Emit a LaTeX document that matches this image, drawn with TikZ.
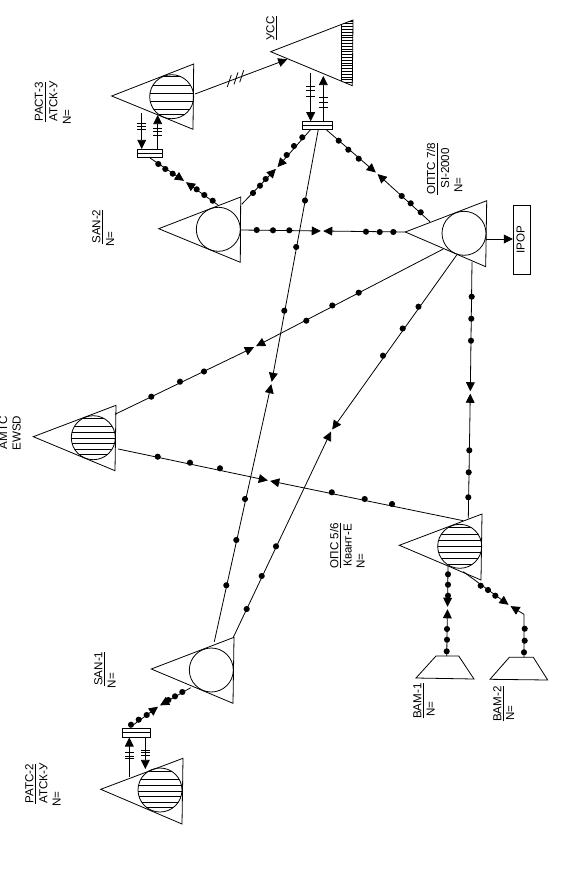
\documentclass[tikz,border=0pt]{standalone}
\usepackage{fontspec}
\setmainfont{Liberation Sans}
\usetikzlibrary{arrows.meta}
\tikzset{
  ln/.style={line width=0.6pt,line join=miter},
  arr/.style={ln,-{Triangle[length=6.8pt,width=6.6pt]},shorten >=0.9pt},
  arrtip/.style={ln,-{Triangle[length=6.8pt,width=6.6pt]}},
  disc/.style={circle,draw,line width=0.6pt,minimum size=33pt,inner sep=0pt},
  lbl/.style={rotate=90,anchor=west,inner sep=0pt,font=\fontsize{8.7}{10}\selectfont,text height=6.2pt,text depth=1.8pt},
  box/.style={draw,line width=0.6pt,inner sep=0pt,fill=white}
}
\newcommand{\tri}[4]{%
  \coordinate (#1-a) at #2; \coordinate (#1-t) at #3; \coordinate (#1-b) at #4;
  \draw[ln] (#1-a) -- (#1-t) -- (#1-b) -- cycle;}
\newcommand{\stripes}[3]{% name, unused, list of offsets
  \begin{scope}
    \clip (#1.center) circle [radius=16.5pt];
    \foreach \o in {#3} \draw[ln] ([yshift=-\o*0.75pt,xshift=-17pt]#1.center) -- ++(34pt,0pt);
  \end{scope}}
\newcommand{\dotsat}[1]{\foreach \p in {#1} \fill \p circle [radius=2.3pt];}
\newcommand{\htk}[3]{\foreach \q in {#3} \draw[ln] (#1-4.3,\q) -- (#1+4.3,\q);}
\newcommand{\twoway}[3]{\draw[arr] (#1) -- (#3); \draw[arr] (#2) -- (#3);}
\newcommand{\lab}[4]{\node[lbl] (#1) at (#2,#3) {#4};}
\begin{document}
\begin{tikzpicture}[x=0.75pt,y=-0.75pt]
\useasboundingbox (0,0) rectangle (575,881);

% stations
\tri{RAC}{(111.7,96)}{(193.7,64)}{(193,129.3)}
\node[disc] (cRAC) at (171.7,96.7) {};
\stripes{cRAC}{}{-20,-11,-3,5,13,18}
\tri{SB}{(158.7,228.7)}{(240.7,197)}{(240.3,262.3)}
\node[disc] (cSB) at (218.3,229.3) {};
\tri{OPT}{(405.3,232)}{(486.7,200.7)}{(485.7,266.7)}
\node[disc] (cOPT) at (464,233.3) {};
\tri{OPS}{(399.3,545.3)}{(482,514)}{(481,580)}
\node[disc] (cOPS) at (459.7,546.3) {};
\stripes{cOPS}{}{-19,-12,-6,0,6,12,18}
\tri{SA}{(151.3,669)}{(234,637.3)}{(233,703.3)}
\node[disc] (cSA) at (211.3,670) {};
\tri{RAT}{(100.7,789.3)}{(183,758.3)}{(182,824)}
\node[disc] (cRAT) at (160,790) {};
\stripes{cRAT}{}{-19,-11,-5,1,6,12,17}
\tri{AMT}{(33.3,436.7)}{(116,405.3)}{(115,470.7)}
\node[disc] (cAMT) at (93.3,437.7) {};
\stripes{cAMT}{}{-19,-11,-5,1,6,12,17}
% YCC
\tri{YCC}{(270.7,51.7)}{(353,20)}{(352.3,85.7)}
\begin{scope}
  \clip (341.3,15) rectangle (353.5,90);
  \clip (YCC-a) -- (YCC-t) -- (YCC-b) -- cycle;
  \foreach \y in {21,23.8,...,88} \draw[line width=0.45pt] (341,\y) -- (354,\y);
\end{scope}
\draw[ln] (341.3,24.5) -- (341.3,81);

% small boxes
\node[box,minimum width=18.75pt,minimum height=5.8pt] (r1) at (150.2,153.2) {};
\draw[ln] (r1.west) -- (r1.east);
\node[box,minimum width=22.7pt,minimum height=5.8pt] (r3) at (317.2,125.5) {};
\draw[ln] (r3.west) -- (r3.east);
\node[box,minimum width=21.3pt,minimum height=6.5pt] (r2) at (136.5,732.7) {};
\draw[ln] (r2.west) -- (r2.east);
\node[box,minimum width=12.7pt,minimum height=51.7pt] (ipop) at (521.7,239.5) {};
\node[lbl,anchor=center] (ipopt) at (ipop.center) {IPOP};

% VAM
\coordinate (v1a) at (416,678); \coordinate (v1b) at (436,656); \coordinate (v1c) at (458.7,656); \coordinate (v1d) at (474,679);
\draw[ln] (v1a) -- (v1b) -- (v1c) -- (v1d) -- cycle;
\coordinate (v2a) at (490,679.3); \coordinate (v2b) at (509.3,657.3); \coordinate (v2c) at (533.3,657.3); \coordinate (v2d) at (547.7,680);
\draw[ln] (v2a) -- (v2b) -- (v2c) -- (v2d) -- cycle;

% connector end points
\coordinate (e1a) at (195,94);      \coordinate (e1b) at (287.3,59.3);
\coordinate (eAa) at (150,158);     \coordinate (eAb) at (218,205);     \coordinate (mA) at (185,181.5);
\coordinate (eBa) at (241.7,204.3); \coordinate (eBb) at (310.7,129.5); \coordinate (mB) at (276.7,168);
\coordinate (eCa) at (326,129.5);   \coordinate (eCb) at (430,221.7);   \coordinate (mC) at (376.7,173.3);
\coordinate (eDa) at (318.3,129.5); \coordinate (eDb) at (214.3,641.7); \coordinate (mD) at (271.5,383);
\coordinate (eEa) at (456.7,255);   \coordinate (eEb) at (233.3,637.3); \coordinate (mE) at (331.5,430.5);
\coordinate (eFa) at (443.3,249);   \coordinate (eFb) at (115,414.3);   \coordinate (mF) at (255,346.7);
\coordinate (eGa) at (463.3,520.7); \coordinate (eGb) at (118.3,449);   \coordinate (mG) at (269,480.7);
\coordinate (eHa) at (240.7,230);   \coordinate (eHb) at (405.3,232);   \coordinate (mH) at (322,231);
\coordinate (eIa) at (485.7,239);
\coordinate (eJa) at (472,262);     \coordinate (eJb) at (468.3,518.3); \coordinate (mJ) at (470.3,392.5);
\coordinate (eKa) at (448,566);     \coordinate (eKb) at (446.7,656);   \coordinate (mK) at (447.5,608);
\coordinate (eLa) at (463.3,571.7); \coordinate (eLb) at (524,657.3);   \coordinate (bL) at (524,614.3); \coordinate (mL) at (509.5,605.5);
\coordinate (eMa) at (190.7,687.7); \coordinate (eMb) at (130,727.3);   \coordinate (mM) at (159,706);

% connectors
\draw[arrtip] (e1a) -- (e1b);
\twoway{eAa}{eAb}{mA}
\dotsat{(158.3,164),(165.3,169),(172.7,173.7),(196.7,189.3),(204.3,195),(212.7,200.7)}
\twoway{eBa}{eBb}{mB}
\dotsat{(253,193),(260,185.7),(265.7,179),(286.7,155),(294,146),(302.3,137.3)}
\twoway{eCa}{eCb}{mC}
\dotsat{(338.7,140.7),(348.3,149.7),(358.7,158.7),(401.7,196),(410.7,203.3),(420.7,212.3)}
\twoway{eDa}{eDb}{mD}
\dotsat{(305,200.5),(296.2,247),(284.3,310.7),(245,499),(236.3,540),(226.3,585.3)}
\twoway{eEa}{eEb}{mE}
\dotsat{(418.5,306.7),(402.7,328.5),(383,355.7),(276,546.3),(261.7,576),(246.7,609)}
\twoway{eFa}{eFb}{mF}
\dotsat{(358.7,292.7),(332.3,305.5),(306.3,320.7),(204,371.5),(180,381.7),(151.3,396.7)}
\twoway{eGa}{eGb}{mG}
\dotsat{(392,504),(364.7,499),(331.8,492.3),(220,468.3),(190,462.7),(157.7,456.7)}
\twoway{eHa}{eHb}{mH}
\dotsat{(256.7,230),(273,230.3),(289.3,230.3),(366,231.7),(379.7,232),(393.3,232)}
\draw[arrtip] (eIa) -- (ipop.west |- eIa);
\twoway{eJa}{eJb}{mJ}
\dotsat{(471.7,296.7),(471.3,318.7),(471,340.7),(469.3,450.3),(468.7,472.3),(468.3,497.3)}
\twoway{eKa}{eKb}{mK}
\dotsat{(448,574.3),(448,584.7),(448,595.7),(447,629),(447,639.7),(446.7,651.3)}
\draw[arr] (eLa) -- (mL);
\draw[arr] (eLb) -- (bL) -- (mL);
\dotsat{(480.7,585.7),(488,590),(495.3,595.7),(524.7,628.7),(524.7,640.7),(524,652.3)}
\twoway{eMa}{eMb}{mM}
\dotsat{(182.3,692),(175,696.3),(168.3,700),(146.7,715),(138.7,719.7),(131,724.7)}

% trunk pairs with tick marks
\coordinate (tA1) at (141.7,112.7); \draw[arrtip] (tA1) -- (r1.north -| tA1);
\htk{141.7}{}{123.3,126,129}
\coordinate (tA2) at (157.7,115); \draw[arrtip] (r1.north -| tA2) -- (tA2);
\htk{157.7}{}{128.3,131.7,135.7}
\coordinate (tB1) at (310.7,72.7); \draw[arrtip] (tB1) -- (r3.north -| tB1);
\htk{310.7}{}{86,90.7,96}
\coordinate (tB2) at (323.3,76); \draw[arrtip] (r3.north -| tB2) -- (tB2);
\htk{323.3}{}{97.3,102,107.3}
\coordinate (tC1) at (129.3,776.7); \draw[arrtip] (tC1) -- (r2.south -| tC1);
\htk{129.3}{}{752.7,756,758.6}
\coordinate (tC2) at (145.3,769); \draw[arrtip] (r2.south -| tC2) -- (tC2);
\htk{145.3}{}{750,752.7,755.7}
% slanted ticks on the line to YCC
\foreach \x/\y in {229.3/81,236/78.4,241.7/76.3} \draw[ln] (\x-2,\y+6) -- (\x+2,\y-6);

% labels
\lab{l1}{40}{122}{\underline{РАСТ-3}}
\lab{l2}{54.5}{122}{АТСК-У}
\lab{l3}{68}{125}{N=}
\lab{l4}{97.5}{244}{\underline{SAN-2}}
\lab{l5}{111.2}{246.7}{N=}
\lab{l6}{271.5}{40.7}{\underline{УСС}}
\lab{l7}{432.2}{195}{\underline{ОПТС 7/8}}
\lab{l8}{446.2}{189}{SI-2000}
\lab{l9}{459.5}{192.7}{N=}
\lab{l10}{4.2}{449.3}{АМТС}
\lab{l11}{17.8}{450.7}{EWSD}
\lab{l12}{335.5}{568.3}{\underline{ОПС 5/6}}
\lab{l13}{348.8}{567}{Квант-Е}
\lab{l14}{361.8}{569}{N=}
\lab{l15}{418.5}{718.7}{\underline{ВАМ-1}}
\lab{l16}{431.8}{716.7}{N=}
\lab{l17}{498.5}{721.7}{\underline{ВАМ-2}}
\lab{l18}{511.2}{720.7}{N=}
\lab{l19}{99.5}{686}{\underline{SAN-1}}
\lab{l20}{112.8}{688.3}{N=}
\lab{l21}{30.5}{804}{\underline{РАТС-2}}
\lab{l22}{44.5}{804}{АТСК-У}
\lab{l23}{57.8}{806.7}{N=}
\end{tikzpicture}
\end{document}
